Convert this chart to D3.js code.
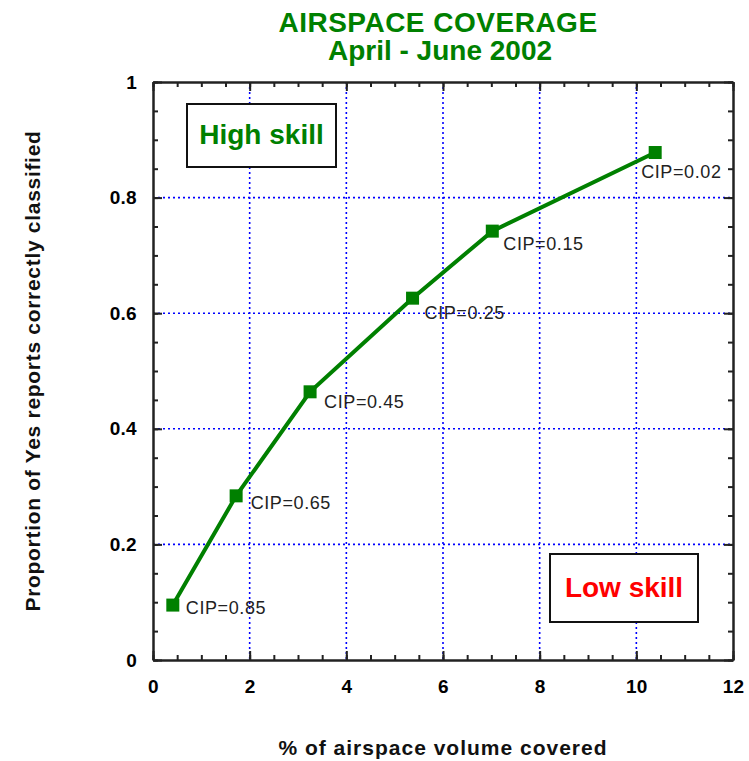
<!DOCTYPE html>
<html>
<head>
<meta charset="utf-8">
<script src="https://cdn.jsdelivr.net/npm/d3@7"></script>
<style>
  body { margin: 0; background: #fff; }
  svg { display: block; font-family: "Liberation Sans", Arial, sans-serif; }
</style>
</head>
<body>
<div id="vis"></div>
<script>
const width = 749;
const height = 761;

// data
const coverage = [0.41, 1.72, 3.25, 5.37, 7.02, 10.39];
const proportion = [0.095, 0.284, 0.464, 0.626, 0.742, 0.878];
const cipLabels = ['CIP=0.85', 'CIP=0.65', 'CIP=0.45', 'CIP=0.25', 'CIP=0.15', 'CIP=0.02'];
const xMajorTicks = [0, 2, 4, 6, 8, 10, 12];
const yMajorTicks = [0, 0.2, 0.4, 0.6, 0.8, 1];
const yTickLabels = ['0', '0.2', '0.4', '0.6', '0.8', '1'];

// label placement relative to each marker (layout only)
const labelOffsets = [[13, 2.5], [14.5, 7], [14, 10], [12, 14], [11, 12], [-14, 19.5]];

const margin = { top: 82, right: 16, bottom: 101, left: 153 };
const plotW = width - margin.left - margin.right;
const plotH = height - margin.top - margin.bottom;
const green = '#008000';

const svg = d3.select('#vis').append('svg')
  .attr('width', width)
  .attr('height', height);

const x = d3.scaleLinear().domain([0, 12]).range([0, plotW]);
const y = d3.scaleLinear().domain([0, 1]).range([plotH, 0]);

const g = svg.append('g')
  .attr('transform', `translate(${margin.left},${margin.top})`);

// grid
g.append('g').selectAll('line')
  .data(xMajorTicks.slice(1, -1))
  .join('line')
  .attr('x1', d => x(d)).attr('x2', d => x(d))
  .attr('y1', 0).attr('y2', plotH)
  .attr('stroke', '#0000ff')
  .attr('stroke-width', 1.6)
  .attr('stroke-dasharray', '2 3');
g.append('g').selectAll('line')
  .data(yMajorTicks.slice(1, -1))
  .join('line')
  .attr('x1', 0).attr('x2', plotW)
  .attr('y1', d => y(d)).attr('y2', d => y(d))
  .attr('stroke', '#0000ff')
  .attr('stroke-width', 1.6)
  .attr('stroke-dasharray', '2 3');

// axes, ticks on all four sides pointing in
const xMinor = d3.range(0, 12.01, 0.5);
const yMinor = d3.range(0, 1.001, 0.05);

function styleAxis(sel) {
  sel.select('.domain').attr('stroke', '#222').attr('stroke-width', 2);
  sel.selectAll('.tick line').attr('stroke', '#222').attr('stroke-width', 2);
  sel.selectAll('.tick text')
    .attr('fill', '#000')
    .style('font-size', '19px')
    .style('font-weight', 'bold')
    .style('letter-spacing', '0.3px');
}

g.append('g').attr('transform', `translate(0,${plotH})`)
  .call(d3.axisBottom(x).tickValues(xMinor).tickSize(-5).tickFormat('').tickSizeOuter(0))
  .call(styleAxis);
g.append('g').attr('transform', `translate(0,${plotH})`)
  .call(d3.axisBottom(x).tickValues(xMajorTicks).tickSize(-9).tickPadding(20).tickSizeOuter(0).tickFormat(d3.format('d')))
  .call(styleAxis);
g.append('g')
  .call(d3.axisTop(x).tickValues(xMinor).tickSize(-5).tickFormat('').tickSizeOuter(0))
  .call(styleAxis);
g.append('g')
  .call(d3.axisTop(x).tickValues(xMajorTicks).tickSize(-9).tickFormat('').tickSizeOuter(0))
  .call(styleAxis);

g.append('g')
  .call(d3.axisLeft(y).tickValues(yMinor).tickSize(-5).tickFormat('').tickSizeOuter(0))
  .call(styleAxis);
g.append('g')
  .call(d3.axisLeft(y).tickValues(yMajorTicks).tickSize(-9).tickPadding(16).tickSizeOuter(0)
    .tickFormat((d, i) => yTickLabels[i]))
  .call(styleAxis);
g.append('g').attr('transform', `translate(${plotW},0)`)
  .call(d3.axisRight(y).tickValues(yMinor).tickSize(-5).tickFormat('').tickSizeOuter(0))
  .call(styleAxis);
g.append('g').attr('transform', `translate(${plotW},0)`)
  .call(d3.axisRight(y).tickValues(yMajorTicks).tickSize(-9).tickFormat('').tickSizeOuter(0))
  .call(styleAxis);

// skill boxes
function skillBox(x0, y0, w, h, label, color, baseline) {
  svg.append('rect')
    .attr('x', x0).attr('y', y0).attr('width', w).attr('height', h)
    .attr('fill', '#fff').attr('stroke', '#111').attr('stroke-width', 2);
  svg.append('text')
    .attr('x', x0 + w / 2).attr('y', baseline)
    .attr('text-anchor', 'middle')
    .attr('fill', color)
    .style('font-size', '28px')
    .style('font-weight', 'bold')
    .text(label);
}
skillBox(187, 104, 149, 63, 'High skill', green, 144);
skillBox(550, 554, 148, 68, 'Low skill', '#ff0000', 597);

// curve
const points = coverage.map((d, i) => ({ x: d, y: proportion[i], label: cipLabels[i], off: labelOffsets[i] }));

g.append('path')
  .datum(points)
  .attr('fill', 'none')
  .attr('stroke', green)
  .attr('stroke-width', 4)
  .attr('d', d3.line().x(d => x(d.x)).y(d => y(d.y)));

g.selectAll('rect.marker')
  .data(points)
  .join('rect')
  .attr('class', 'marker')
  .attr('x', d => x(d.x) - 6.5)
  .attr('y', d => y(d.y) - 6.5)
  .attr('width', 13)
  .attr('height', 13)
  .attr('fill', green);

g.selectAll('text.cip')
  .data(points)
  .join('text')
  .attr('class', 'cip')
  .attr('x', d => x(d.x) + d.off[0])
  .attr('y', d => y(d.y) + d.off[1])
  .attr('dy', '0.36em')
  .attr('fill', '#222')
  .style('font-size', '18px')
  .style('letter-spacing', '0.6px')
  .text(d => d.label);

// titles
svg.append('text')
  .attr('x', 438).attr('y', 32)
  .attr('text-anchor', 'middle')
  .attr('fill', green)
  .style('font-size', '28px')
  .style('font-weight', 'bold')
  .style('letter-spacing', '0.5px')
  .text('AIRSPACE COVERAGE');
svg.append('text')
  .attr('x', 440).attr('y', 60)
  .attr('text-anchor', 'middle')
  .attr('fill', green)
  .style('font-size', '28px')
  .style('font-weight', 'bold')
  .text('April - June 2002');

svg.append('text')
  .attr('x', margin.left + plotW / 2).attr('y', 755)
  .attr('text-anchor', 'middle')
  .attr('fill', '#111')
  .style('font-size', '21px')
  .style('font-weight', 'bold')
  .style('letter-spacing', '1px')
  .text('% of airspace volume covered');

svg.append('text')
  .attr('transform', `translate(40,${margin.top + plotH / 2}) rotate(-90)`)
  .attr('text-anchor', 'middle')
  .attr('fill', '#111')
  .style('font-size', '21px')
  .style('font-weight', 'bold')
  .style('letter-spacing', '0.7px')
  .text('Proportion of Yes reports correctly classified');
</script>
</body>
</html>
